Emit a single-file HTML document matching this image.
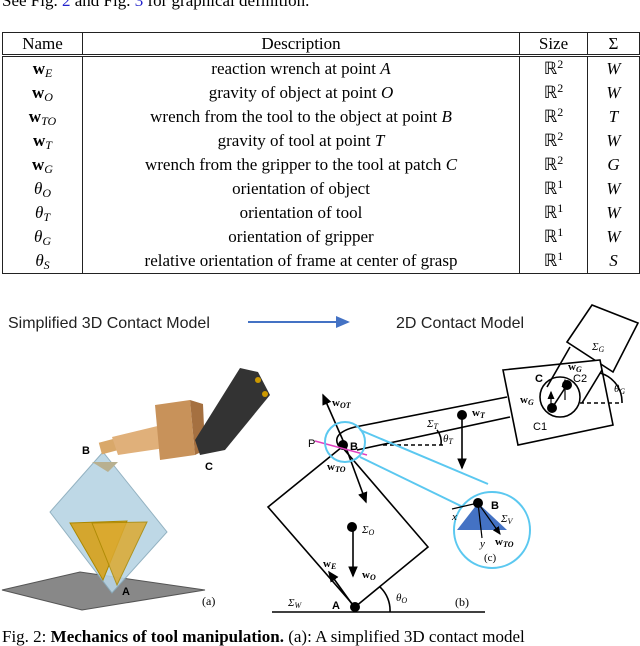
<html><head><style>
body{margin:0;width:640px;height:646px;overflow:hidden;background:#fff;font-family:"Liberation Serif",serif;position:relative}
.t{position:absolute;left:2px;top:32px;width:638px;border-collapse:collapse;font-size:17px;line-height:24px}
.t td,.t th{border-left:1.5px solid #222;border-right:1.5px solid #222;text-align:center;padding:0;font-weight:normal}
.t{border-top:1.5px solid #222;border-bottom:1.5px solid #222}
.t th{border-bottom:3px double #222;height:22px;line-height:21px}
i{font-style:italic}
b.w{font-weight:bold}
sub{font-size:12px;font-style:italic;vertical-align:-3px;line-height:0}
sup{font-size:12px;vertical-align:6px;line-height:0}
</style></head><body>
<div style="position:absolute;left:2px;top:-9px;font-size:17px">See Fig. <span style="color:#22c">2</span> and Fig. <span style="color:#22c">3</span> for graphical definition.</div>
<table class="t">
<tr><th style="width:79px">Name</th><th style="width:436px">Description</th><th style="width:67px">Size</th><th>Σ</th></tr>
<tr><td><b class="w">w</b><sub>E</sub></td><td>reaction wrench at point <i>A</i></td><td>ℝ<sup>2</sup></td><td><i>W</i></td></tr>
<tr><td><b class="w">w</b><sub>O</sub></td><td>gravity of object at point <i>O</i></td><td>ℝ<sup>2</sup></td><td><i>W</i></td></tr>
<tr><td><b class="w">w</b><sub>TO</sub></td><td>wrench from the tool to the object at point <i>B</i></td><td>ℝ<sup>2</sup></td><td><i>T</i></td></tr>
<tr><td><b class="w">w</b><sub>T</sub></td><td>gravity of tool at point <i>T</i></td><td>ℝ<sup>2</sup></td><td><i>W</i></td></tr>
<tr><td><b class="w">w</b><sub>G</sub></td><td>wrench from the gripper to the tool at patch <i>C</i></td><td>ℝ<sup>2</sup></td><td><i>G</i></td></tr>
<tr><td><i>θ</i><sub>O</sub></td><td>orientation of object</td><td>ℝ<sup>1</sup></td><td><i>W</i></td></tr>
<tr><td><i>θ</i><sub>T</sub></td><td>orientation of tool</td><td>ℝ<sup>1</sup></td><td><i>W</i></td></tr>
<tr><td><i>θ</i><sub>G</sub></td><td>orientation of gripper</td><td>ℝ<sup>1</sup></td><td><i>W</i></td></tr>
<tr><td><i>θ</i><sub>S</sub></td><td>relative orientation of frame at center of grasp</td><td>ℝ<sup>1</sup></td><td><i>S</i></td></tr>
</table>
<svg width="640" height="646" style="position:absolute;left:0;top:0" font-family="Liberation Sans, sans-serif">
<defs><marker id="a" markerWidth="8" markerHeight="8" refX="6" refY="3" orient="auto"><path d="M0,0L7,3L0,6z" fill="#000"/></marker>
<marker id="ab" markerWidth="8" markerHeight="8" refX="6" refY="3" orient="auto"><path d="M0,0L7,3L0,6z" fill="#4472c4"/></marker></defs>
<text x="8" y="328" font-size="16" fill="#222">Simplified 3D Contact Model</text>
<line x1="248" y1="322" x2="348" y2="322" stroke="#4472c4" stroke-width="2" marker-end="url(#ab)"/>
<text x="396" y="328" font-size="16" fill="#222">2D Contact Model</text>
<!-- 3D -->
<polygon points="2,590 80,572 205,590 82,610" fill="#888" stroke="#555"/>
<polygon points="103,452 50,512 112,593 167,532" fill="#b8d4e4" stroke="#8ab" opacity="0.9"/>
<polygon points="70,523 127,521 103,580" fill="#d4a62e" stroke="#a80"/>
<polygon points="92,523 147,522 117,585" fill="#dcaa30" stroke="#a80" opacity="0.85"/>
<polygon points="92,462 118,462 108,472" fill="#b8b090"/>
<rect x="100" y="440" width="20" height="12" fill="#d9a86a" transform="rotate(-15 110 446)"/>
<polygon points="112,437 170,423 172,447 118,455" fill="#e0b07a"/>
<polygon points="155,405 190,400 195,455 160,460" fill="#c8925a"/>
<polygon points="190,400 203,404 205,450 195,455" fill="#a57040"/>
<polygon points="195,440 240,368 258,372 270,395 225,450 200,455" fill="#333"/>
<circle cx="258" cy="380" r="3" fill="#c90"/><circle cx="265" cy="394" r="3" fill="#c90"/>
<text x="82" y="454" font-size="11" font-weight="bold">B</text>
<text x="205" y="470" font-size="11" font-weight="bold">C</text>
<text x="122" y="595" font-size="11" font-weight="bold">A</text>
<text x="202" y="605" font-size="12" font-family="Liberation Serif">(a)</text>
<!-- 2D -->
<g stroke="#000" stroke-width="1.6" fill="none">
<polygon points="567,342 592,305 638,323 613,372" fill="#fff"/>
<polygon points="503,370 600,360 613,425 518,445" fill="#fff"/>
<line x1="570" y1="347" x2="547" y2="387"/><line x1="602" y1="370" x2="582" y2="403"/>
<circle cx="560" cy="397" r="20"/>
<line x1="552" y1="408" x2="567" y2="385"/>
<line x1="580" y1="403" x2="622" y2="403" stroke-dasharray="4,3"/>
<path d="M600,373 A30,30 0 0 1 622,403"/>
<path d="M355,427 L507,397 M357,450 L510,417 M355,427 Q332,433 338,445 L343,448"/>
<line x1="383" y1="445" x2="445" y2="445" stroke-dasharray="4,3"/>
<path d="M437,430 A20,20 0 0 1 441,445"/>
<line x1="462" y1="415" x2="462" y2="468" marker-end="url(#a)"/>
<polygon points="268,507 342,447 428,547 355,607" fill="none"/>
<line x1="345" y1="445" x2="323" y2="395" marker-end="url(#a)"/>
<line x1="345" y1="445" x2="366" y2="502" marker-end="url(#a)"/>
<line x1="353" y1="527" x2="353" y2="576" marker-end="url(#a)"/>
<line x1="352" y1="604" x2="329" y2="572" marker-end="url(#a)"/>
<line x1="272" y1="612" x2="485" y2="612"/>
<path d="M380,587 A32,32 0 0 1 390,612"/>
<line x1="565" y1="400" x2="565" y2="380" marker-end="url(#a)" stroke-width="1.2"/>
<line x1="551" y1="408" x2="551" y2="392" marker-end="url(#a)" stroke-width="1.2"/>
</g>
<circle cx="552" cy="408" r="5"/><circle cx="567" cy="385" r="5"/>
<circle cx="462" cy="415" r="5"/><circle cx="343" cy="445" r="5"/>
<circle cx="352" cy="527" r="5"/><circle cx="355" cy="607" r="5"/>
<line x1="315" y1="441" x2="367" y2="455" stroke="#e040c0" stroke-width="1.5"/>
<g stroke="#5bc8f0" stroke-width="2" fill="none">
<circle cx="345" cy="442" r="20"/><circle cx="492" cy="530" r="38"/>
<line x1="360" y1="430" x2="488" y2="484"/><line x1="360" y1="457" x2="463" y2="507"/>
</g>
<polygon points="457,530 507,530 478,503" fill="#4472c4"/>
<g stroke="#000" stroke-width="1.2"><line x1="478" y1="503" x2="452" y2="509"/><line x1="478" y1="503" x2="482" y2="538"/><line x1="478" y1="503" x2="500" y2="534" marker-end="url(#a)"/></g>
<circle cx="478" cy="503" r="5"/>
<g font-family="Liberation Serif" font-size="11" font-style="italic">
<text x="592" y="350">Σ<tspan font-size="8" dy="2">G</tspan></text>
<text x="568" y="370" font-weight="bold" font-style="normal">w<tspan font-size="8" dy="2" font-style="italic">G</tspan></text>
<text x="520" y="403" font-weight="bold" font-style="normal">w<tspan font-size="8" dy="2" font-style="italic">G</tspan></text>
<text x="614" y="392">θ<tspan font-size="8" dy="2">G</tspan></text>
<text x="427" y="427">Σ<tspan font-size="8" dy="2">T</tspan></text>
<text x="443" y="442">θ<tspan font-size="8" dy="2">T</tspan></text>
<text x="472" y="416" font-weight="bold" font-style="normal">w<tspan font-size="8" dy="2" font-style="italic">T</tspan></text>
<text x="332" y="406" font-weight="bold" font-style="normal">w<tspan font-size="8" dy="2" font-style="italic">OT</tspan></text>
<text x="327" y="470" font-weight="bold" font-style="normal">w<tspan font-size="8" dy="2" font-style="italic">TO</tspan></text>
<text x="362" y="533">Σ<tspan font-size="8" dy="2">O</tspan></text>
<text x="362" y="578" font-weight="bold" font-style="normal">w<tspan font-size="8" dy="2" font-style="italic">O</tspan></text>
<text x="323" y="567" font-weight="bold" font-style="normal">w<tspan font-size="8" dy="2" font-style="italic">E</tspan></text>
<text x="288" y="606">Σ<tspan font-size="8" dy="2">W</tspan></text>
<text x="396" y="601">θ<tspan font-size="8" dy="2">O</tspan></text>
<text x="455" y="606" font-style="normal" font-size="12">(b)</text>
<text x="452" y="520">x</text><text x="480" y="547">y</text>
<text x="501" y="522">Σ<tspan font-size="8" dy="2">V</tspan></text>
<text x="495" y="545" font-weight="bold" font-style="normal">w<tspan font-size="8" dy="2" font-style="italic">TO</tspan></text>
<text x="484" y="561" font-style="normal">(c)</text>
</g>
<g font-size="11"><text x="535" y="382" font-weight="bold">C</text><text x="573" y="382">C2</text><text x="533" y="430">C1</text>
<text x="308" y="447">P</text><text x="350" y="450" font-weight="bold">B</text><text x="491" y="509" font-weight="bold">B</text>
<text x="332" y="609" font-weight="bold">A</text></g>
<text x="2" y="642" font-size="17" font-family="Liberation Serif">Fig. 2: <tspan font-weight="bold">Mechanics of tool manipulation.</tspan> (a): A simplified 3D contact model</text>
</svg>
</body></html>
